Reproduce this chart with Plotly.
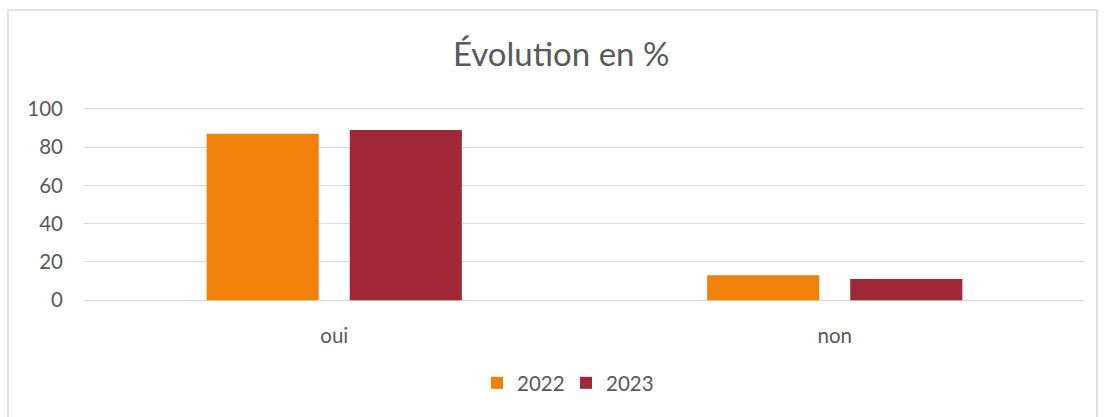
import plotly.graph_objects as go

categories = ["oui", "non"]
series_names = ["2022", "2023"]
values_2022 = [87, 13]
values_2023 = [89, 11]
y_ticks = [0, 20, 40, 60, 80, 100]

colors = {"2022": "#F0810A", "2023": "#A02736"}
font_family = "Lato, 'Open Sans', sans-serif"
text_color = "#595959"
grid_color = "#D9D9D9"

W, H = 1105, 417
ml, mr, mt, mb = 84, 20, 106, 114
pw = W - ml - mr
ph = H - mt - mb

def px_x(x):
    return (x - ml) / pw

def px_y(y):
    return (H - mb - y) / ph

fig = go.Figure()
for name, vals in zip(series_names, [values_2022, values_2023]):
    fig.add_trace(go.Bar(
        x=categories, y=vals, name=name,
        marker=dict(color=colors[name], line=dict(width=0)),
    ))

fig.update_layout(
    width=W, height=H,
    margin=dict(l=ml, r=mr, t=mt, b=mb),
    paper_bgcolor="white", plot_bgcolor="white",
    barmode="group", bargap=0.428, bargroupgap=0.217,
    font=dict(family=font_family, color=text_color, size=20.5),
    showlegend=True,
    legend=dict(orientation="h", x=px_x(566), y=px_y(383), xanchor="center", yanchor="middle",
                font=dict(size=20.5, color=text_color), traceorder="normal",
                itemwidth=30, entrywidth=44, entrywidthmode="pixels"),
    annotations=[dict(text="Évolution en %", x=px_x(561), y=px_y(53), xref="paper", yref="paper",
                      xanchor="center", yanchor="middle", showarrow=False,
                      font=dict(size=33, color=text_color, family=font_family))],
    shapes=[dict(type="rect", xref="paper", yref="paper",
                 x0=px_x(8), x1=px_x(1097), y0=px_y(430), y1=px_y(10),
                 line=dict(color=grid_color, width=1.5), fillcolor="rgba(0,0,0,0)", layer="below")],
)
fig.update_yaxes(range=[-1.5, 101.5], tickvals=y_ticks, showgrid=True, gridcolor=grid_color, gridwidth=1.3,
                 zeroline=True, zerolinecolor=grid_color, zerolinewidth=1.3,
                 showline=False, ticks="", ticklabelstandoff=20,
                 tickfont=dict(size=20.5, color=text_color))
fig.update_xaxes(showgrid=False, showline=False, zeroline=False, ticks="", ticklabelstandoff=18,
                 tickfont=dict(size=20.5, color=text_color))

fig.write_html("out.html", config={"displayModeBar": False},
               post_script="document.body.style.margin='0';")
